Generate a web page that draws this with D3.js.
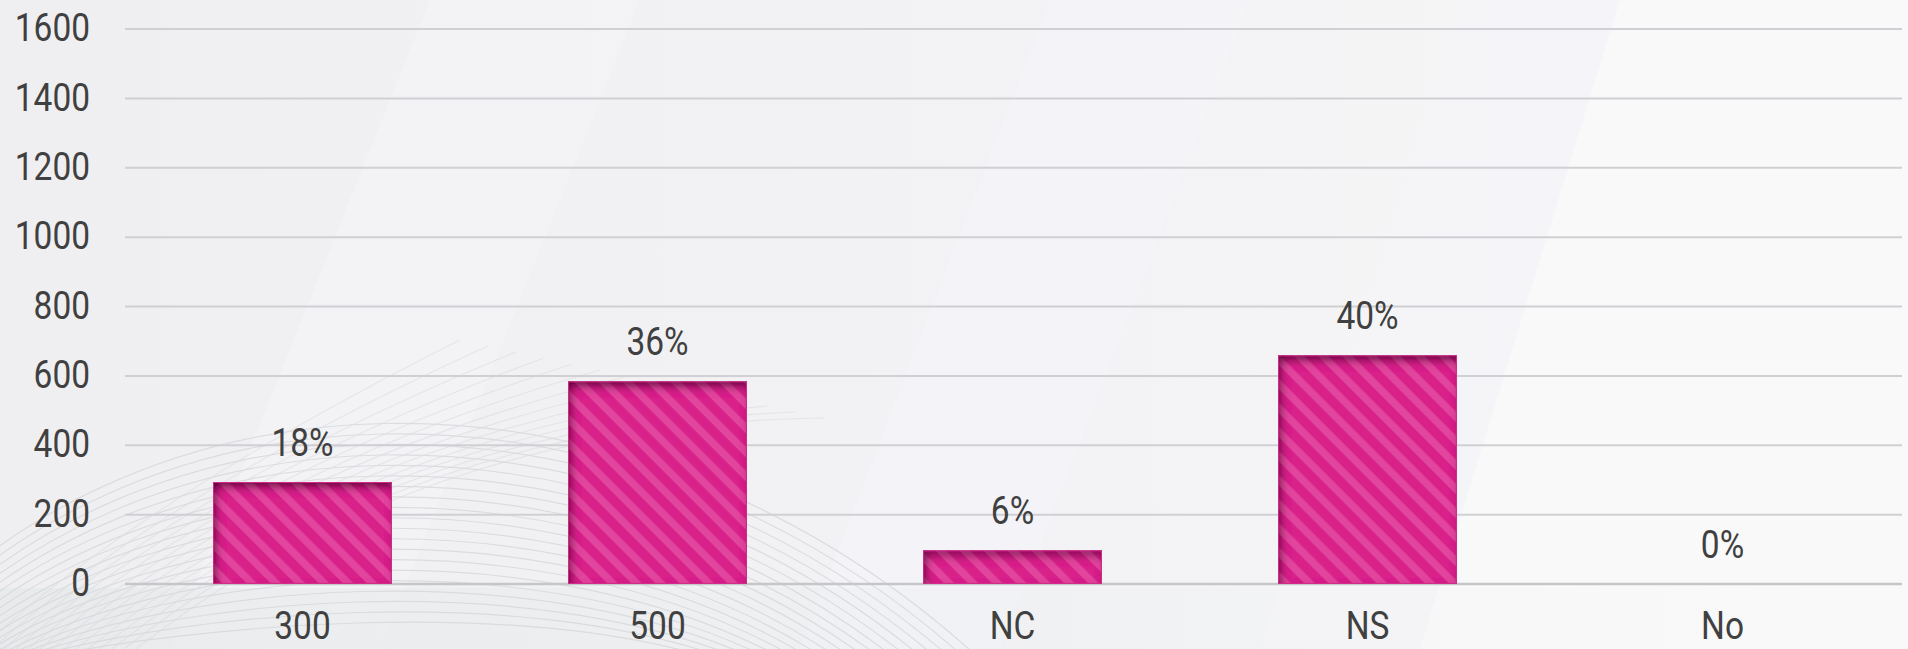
<!DOCTYPE html>
<html>
<head>
<meta charset="utf-8">
<script src="https://cdn.jsdelivr.net/npm/d3@7"></script>
<style>
  html, body { margin: 0; padding: 0; background: #f3f3f5; }
  svg { display: block; }
  text { font-family: "Roboto", "Liberation Sans", sans-serif; fill: #404040; }
</style>
</head>
<body>
<svg id="chart" width="1908" height="649"></svg>
<script>
// ---- data ----
const categories = ["300", "500", "NC", "NS", "No"];
const counts = [294, 584, 97, 659, 0];
const percentLabels = ["18%", "36%", "6%", "40%", "0%"];
const yTicks = [0, 200, 400, 600, 800, 1000, 1200, 1400, 1600];

const W = 1908, H = 649;
const FS = 38, SX = 0.88;
const svg = d3.select("#chart");
const defs = svg.append("defs");

// ---- background ----
const bgGrad = defs.append("linearGradient").attr("id", "bgGrad")
  .attr("x1", "0").attr("y1", "0").attr("x2", "1").attr("y2", "0");
bgGrad.append("stop").attr("offset", "0").attr("stop-color", "#efeff1");
bgGrad.append("stop").attr("offset", "0.6").attr("stop-color", "#f3f3f5");
bgGrad.append("stop").attr("offset", "1").attr("stop-color", "#f8f8f8");
svg.append("rect").attr("width", W).attr("height", H).attr("fill", "url(#bgGrad)");

// diagonal soft bands
const bands = [
  [[430, 0], [640, 0], [380, 649], [170, 649], "#f5f5f9", 0.6],
  [[1050, 0], [1250, 0], [1000, 649], [800, 649], "#f5f5fa", 0.6],
  [[1460, 0], [1620, 0], [1420, 649], [1260, 649], "#f5f5fa", 0.7],
  [[1620, 0], [1908, 0], [1908, 649], [1420, 649], "#f9f9f9", 1]
];
bands.forEach(b => {
  svg.append("path")
    .attr("d", `M${b[0]}L${b[1]}L${b[2]}L${b[3]}Z`)
    .attr("fill", b[4]).attr("opacity", b[5]);
});
// bottom strip
const bsGrad = defs.append("linearGradient").attr("id", "bsGrad")
  .attr("x1", "0").attr("y1", "0").attr("x2", "1").attr("y2", "0");
bsGrad.append("stop").attr("offset", "0").attr("stop-color", "#e6e9ea").attr("stop-opacity", 0.8);
bsGrad.append("stop").attr("offset", "0.5").attr("stop-color", "#eceeef").attr("stop-opacity", 0.4);
bsGrad.append("stop").attr("offset", "1").attr("stop-color", "#f4f4f4").attr("stop-opacity", 0);
svg.append("rect").attr("x", 0).attr("y", 588).attr("width", W).attr("height", 61)
  .attr("fill", "url(#bsGrad)");

// decorative arcs (bottom-left)
const arcs = svg.append("g").attr("fill", "none").attr("stroke", "#d6d7db").attr("stroke-width", 1.2).attr("opacity", 0.8);
for (let i = 0; i < 20; i++) {
  arcs.append("path")
    .attr("d", `M${-120 + i * 8},${H + 10} C${120 + i * 4},${360 + i * 14} ${620 - i * 6},${330 + i * 14} ${980 - i * 14},${H + 10}`);
}
for (let i = 0; i < 14; i++) {
  arcs.append("path")
    .attr("d", `M${-20 + i * 12},${H} Q${140 + i * 22},${500 - i * 6} ${460 + i * 28},${340 + i * 6}`)
    .attr("opacity", 0.6);
}

// ---- scales ----
const x = d3.scaleBand().domain(categories).range([125, 1900])
  .paddingInner(0.496).paddingOuter(0.248);
const y = d3.scaleLinear().domain([0, 1600]).range([584, 29]);

// ---- gridlines ----
const grid = svg.append("g");
grid.selectAll("line").data(yTicks).join("line")
  .attr("x1", 125).attr("x2", 1902)
  .attr("y1", d => y(d)).attr("y2", d => y(d))
  .attr("stroke", d => d === 0 ? "#c6c6ca" : "#d0d0d4")
  .attr("stroke-width", d => d === 0 ? 2.5 : 2);

// ---- y axis labels ----
const yAxis = d3.axisLeft(y).tickValues(yTicks).tickFormat(d3.format("d")).tickSize(0).tickPadding(0);
const yG = svg.append("g").attr("transform", "translate(90,0)").call(yAxis);
yG.select(".domain").remove();
yG.attr("font-family", null).attr("font-size", null);
yG.selectAll("text")
  .attr("x", 0).attr("dy", null).attr("y", 11.7)
  .attr("transform", `scale(${SX},1)`)
  .style("font-size", FS + "px").style("fill", "#404040");

// ---- x axis labels ----
const xAxis = d3.axisBottom(x).tickSize(0).tickPadding(0);
const xG = svg.append("g").call(xAxis);
xG.select(".domain").remove();
xG.attr("font-family", null).attr("font-size", null);
xG.selectAll("text")
  .attr("y", 639.5).attr("dy", null)
  .attr("transform", `scale(${SX},1)`)
  .style("font-size", FS + "px").style("fill", "#404040");

// ---- bar fill pattern ----
const pat = defs.append("pattern").attr("id", "stripes")
  .attr("patternUnits", "userSpaceOnUse").attr("width", 17).attr("height", 17)
  .attr("patternTransform", "rotate(-45)");
pat.append("rect").attr("width", 17).attr("height", 17).attr("fill", "#d8218a");
pat.append("rect").attr("width", 7.5).attr("height", 17).attr("fill", "#e2459d");

// inner shadow filter
const f = defs.append("filter").attr("id", "inset")
  .attr("x", "-20%").attr("y", "-20%").attr("width", "140%").attr("height", "140%");
f.append("feComponentTransfer").attr("in", "SourceAlpha").attr("result", "inv")
  .append("feFuncA").attr("type", "table").attr("tableValues", "1 0");
f.append("feGaussianBlur").attr("in", "inv").attr("stdDeviation", 5).attr("result", "blur");
f.append("feOffset").attr("in", "blur").attr("dx", 3).attr("dy", 5).attr("result", "off");
f.append("feFlood").attr("flood-color", "#3e0322").attr("flood-opacity", 0.95).attr("result", "col");
f.append("feComposite").attr("in", "col").attr("in2", "off").attr("operator", "in").attr("result", "sh");
f.append("feComposite").attr("in", "sh").attr("in2", "SourceAlpha").attr("operator", "in").attr("result", "shIn");
const fm = f.append("feMerge");
fm.append("feMergeNode").attr("in", "SourceGraphic");
fm.append("feMergeNode").attr("in", "shIn");

// ---- bars ----
const bars = svg.append("g");
bars.selectAll("rect.bar").data(categories).join("rect")
  .attr("class", "bar")
  .attr("x", d => x(d))
  .attr("y", (d, i) => y(counts[i]))
  .attr("width", x.bandwidth())
  .attr("height", (d, i) => y(0) - y(counts[i]))
  .attr("fill", "url(#stripes)")
  .attr("filter", "url(#inset)")
  .style("display", (d, i) => counts[i] > 0 ? null : "none");
bars.selectAll("rect.edge").data(categories.filter((d, i) => counts[i] > 0)).join("rect")
  .attr("class", "edge")
  .attr("x", d => x(d) + 0.5)
  .attr("y", d => y(counts[categories.indexOf(d)]) + 0.5)
  .attr("width", x.bandwidth() - 1)
  .attr("height", d => y(0) - y(counts[categories.indexOf(d)]) - 1)
  .attr("fill", "none").attr("stroke", "#d42a88").attr("stroke-width", 1);

// ---- value labels ----
svg.append("g").selectAll("g").data(categories).join("g")
  .attr("transform", (d, i) => `translate(${x(d) + x.bandwidth() / 2},${y(counts[i]) - 26})`)
  .append("text")
  .attr("text-anchor", "middle")
  .attr("transform", `scale(${SX},1)`)
  .style("font-size", FS + "px")
  .text((d, i) => percentLabels[i]);
</script>
</body>
</html>
